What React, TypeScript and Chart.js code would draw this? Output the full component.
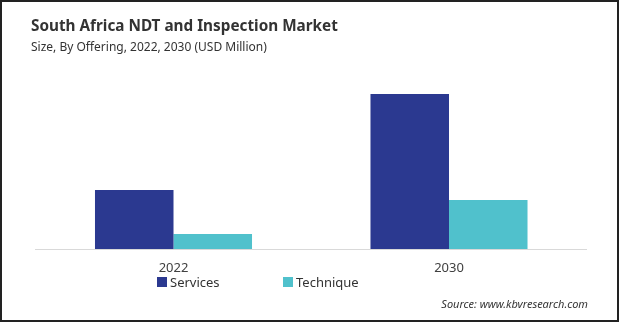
import React, { useEffect, useRef } from "react";
import { Chart, registerables } from "chart.js";

Chart.register(...registerables);

const categories = ["2022", "2030"];
const seriesNames = ["Services", "Technique"];
const servicesValues = [59, 155];
const techniqueValues = [15, 49];
const colors = ["#2b3990", "#50c1cc"];

const FONT = "'Noto Sans', 'Open Sans', sans-serif";

export default function App() {
  const canvasRef = useRef<HTMLCanvasElement | null>(null);

  useEffect(() => {
    document.body.style.margin = "0";
    const ctx = canvasRef.current!.getContext("2d")!;
    const chart = new Chart(ctx, {
      type: "bar",
      data: {
        labels: categories,
        datasets: [
          { label: seriesNames[0], data: servicesValues, backgroundColor: colors[0], borderWidth: 0 },
          { label: seriesNames[1], data: techniqueValues, backgroundColor: colors[1], borderWidth: 0 },
        ],
      },
      options: {
        animation: false,
        responsive: false,
        maintainAspectRatio: false,
        layout: { padding: { top: 79, bottom: 35.4, left: 35.75, right: 32.25 } },
        plugins: { legend: { display: false }, title: { display: false }, tooltip: { enabled: false } },
        datasets: { bar: { categoryPercentage: 0.57, barPercentage: 1 } },
        scales: {
          x: {
            grid: { display: false, drawTicks: false },
            border: { display: true, color: "#d9d9d9", width: 1 },
            ticks: { padding: 11, color: "#404040", font: { family: FONT, size: 13 } },
          },
          y: { display: false, min: 0, max: 170 },
        },
      },
    });
    return () => chart.destroy();
  }, []);

  const legendItem = (i: number, left: number) => (
    <div style={{ position: "absolute", left, top: 273, display: "flex", alignItems: "center", fontFamily: FONT, fontSize: 13, color: "#333" }}>
      <span style={{ width: 10, height: 10, background: colors[i], display: "inline-block", marginRight: 3 }} />
      <span>{seriesNames[i]}</span>
    </div>
  );

  return (
    <div style={{ position: "fixed", left: 0, top: 0, width: 619, height: 322, background: "#fff", overflow: "hidden" }}>
      <canvas ref={canvasRef} width={619} height={322} style={{ position: "absolute", left: 0, top: 0 }} />
      <div style={{ position: "absolute", left: 31, top: 15, fontFamily: FONT, fontWeight: 700, fontSize: 15.3, color: "#333", whiteSpace: "nowrap" }}>
        South Africa NDT and Inspection Market
      </div>
      <div style={{ position: "absolute", left: 31, top: 38, fontFamily: FONT, fontSize: 12, color: "#333", whiteSpace: "nowrap" }}>
        Size, By Offering, 2022, 2030 (USD Million)
      </div>
      {legendItem(0, 157)}
      {legendItem(1, 283)}
      <div style={{ position: "absolute", right: 31, top: 296, fontFamily: FONT, fontStyle: "italic", fontSize: 11, color: "#333", whiteSpace: "nowrap" }}>
        Source: www.kbvresearch.com
      </div>
      <div style={{ position: "absolute", left: 0, top: 0, width: 619, height: 322, boxSizing: "border-box", border: "2px solid #222", pointerEvents: "none" }} />
    </div>
  );
}
